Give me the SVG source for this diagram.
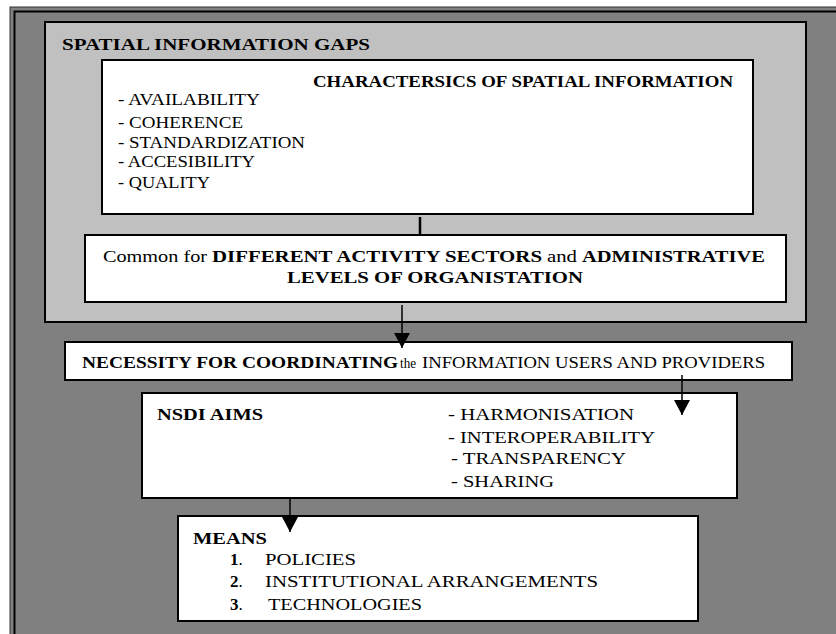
<svg xmlns="http://www.w3.org/2000/svg" width="836" height="634" viewBox="0 0 836 634">
<style>
.box{fill:#fff;stroke:#000;stroke-width:2}
.t{font-family:"Liberation Serif","Times New Roman",serif;font-size:17px;fill:#000}
.b{font-weight:bold}
.s{font-size:14px}
.c{stroke:#000;stroke-width:1.5;fill:none}
</style>
<defs>
<marker id="ah" markerUnits="userSpaceOnUse" markerWidth="18" markerHeight="16" refX="15" refY="8" orient="auto">
<path d="M0,0 L15,8 L0,16 Z" fill="#000"/>
</marker>
</defs>
<rect width="836" height="634" fill="#fff"/>
<g id="frame">
<rect x="10" y="7" width="840" height="640" fill="#808080" stroke="#333" stroke-width="1"/>
<rect x="14.5" y="11.5" width="830" height="640" fill="none" stroke="#000" stroke-width="2"/>
</g>
<g id="gaps">
<rect x="45" y="22" width="761" height="300" fill="#c0c0c0" stroke="#000" stroke-width="2"/>
<text class="t b" x="62" y="50" textLength="308" lengthAdjust="spacingAndGlyphs">SPATIAL INFORMATION GAPS</text>
</g>
<g id="characteristics">
<rect class="box" x="102" y="60" width="651" height="154"/>
<text class="t b" x="313" y="87" textLength="420" lengthAdjust="spacingAndGlyphs">CHARACTERSICS OF SPATIAL INFORMATION</text>
<text class="t" x="118" y="105" textLength="142" lengthAdjust="spacingAndGlyphs">- AVAILABILITY</text>
<text class="t" x="118" y="128" textLength="125" lengthAdjust="spacingAndGlyphs">- COHERENCE</text>
<text class="t" x="118" y="148" textLength="187" lengthAdjust="spacingAndGlyphs">- STANDARDIZATION</text>
<text class="t" x="118" y="167" textLength="137" lengthAdjust="spacingAndGlyphs">- ACCESIBILITY</text>
<text class="t" x="118" y="188" textLength="92" lengthAdjust="spacingAndGlyphs">- QUALITY</text>
</g>
<g id="common">
<rect class="box" x="85" y="235" width="701" height="67"/>
<text class="t" x="103" y="262" textLength="104" lengthAdjust="spacingAndGlyphs">Common for</text>
<text class="t b" x="212" y="262" textLength="330" lengthAdjust="spacingAndGlyphs">DIFFERENT ACTIVITY SECTORS</text>
<text class="t" x="547" y="262" textLength="30" lengthAdjust="spacingAndGlyphs">and</text>
<text class="t b" x="582" y="262" textLength="183" lengthAdjust="spacingAndGlyphs">ADMINISTRATIVE</text>
<text class="t b" x="287" y="283" textLength="296" lengthAdjust="spacingAndGlyphs">LEVELS OF ORGANISTATION</text>
</g>
<g id="necessity">
<rect class="box" x="65" y="342" width="727" height="38"/>
<text class="t b" x="82" y="368" textLength="316" lengthAdjust="spacingAndGlyphs">NECESSITY FOR COORDINATING</text>
<text class="t s" x="400" y="368" textLength="16" lengthAdjust="spacingAndGlyphs">the</text>
<text class="t" x="422" y="368" textLength="343" lengthAdjust="spacingAndGlyphs">INFORMATION USERS AND PROVIDERS</text>
</g>
<g id="aims">
<rect class="box" x="142" y="393" width="595" height="105"/>
<text class="t b" x="157" y="420" textLength="106" lengthAdjust="spacingAndGlyphs">NSDI AIMS</text>
<text class="t" x="448" y="420" textLength="186" lengthAdjust="spacingAndGlyphs">- HARMONISATION</text>
<text class="t" x="448" y="443" textLength="207" lengthAdjust="spacingAndGlyphs">- INTEROPERABILITY</text>
<text class="t" x="451" y="464" textLength="175" lengthAdjust="spacingAndGlyphs">-  TRANSPARENCY</text>
<text class="t" x="451" y="487" textLength="103" lengthAdjust="spacingAndGlyphs">-  SHARING</text>
</g>
<g id="means">
<rect class="box" x="178" y="516" width="520" height="105"/>
<text class="t b" x="193" y="544" textLength="74" lengthAdjust="spacingAndGlyphs">MEANS</text>
<text class="t" x="230" y="565"><tspan class="b">1</tspan>.</text>
<text class="t" x="265" y="565" textLength="91" lengthAdjust="spacingAndGlyphs">POLICIES</text>
<text class="t" x="230" y="587"><tspan class="b">2</tspan>.</text>
<text class="t" x="265" y="587" textLength="333" lengthAdjust="spacingAndGlyphs">INSTITUTIONAL ARRANGEMENTS</text>
<text class="t" x="230" y="610"><tspan class="b">3</tspan>.</text>
<text class="t" x="268" y="610" textLength="154" lengthAdjust="spacingAndGlyphs">TECHNOLOGIES</text>
</g>
<g id="connectors">
<line x1="420" y1="217" x2="420" y2="236" stroke="#000" stroke-width="2.5"/>
<line class="c" x1="402" y1="305" x2="402" y2="348" marker-end="url(#ah)"/>
<line class="c" x1="682" y1="375" x2="682" y2="415" marker-end="url(#ah)"/>
<line class="c" x1="290" y1="498" x2="290" y2="532" marker-end="url(#ah)"/>
</g>
</svg>
